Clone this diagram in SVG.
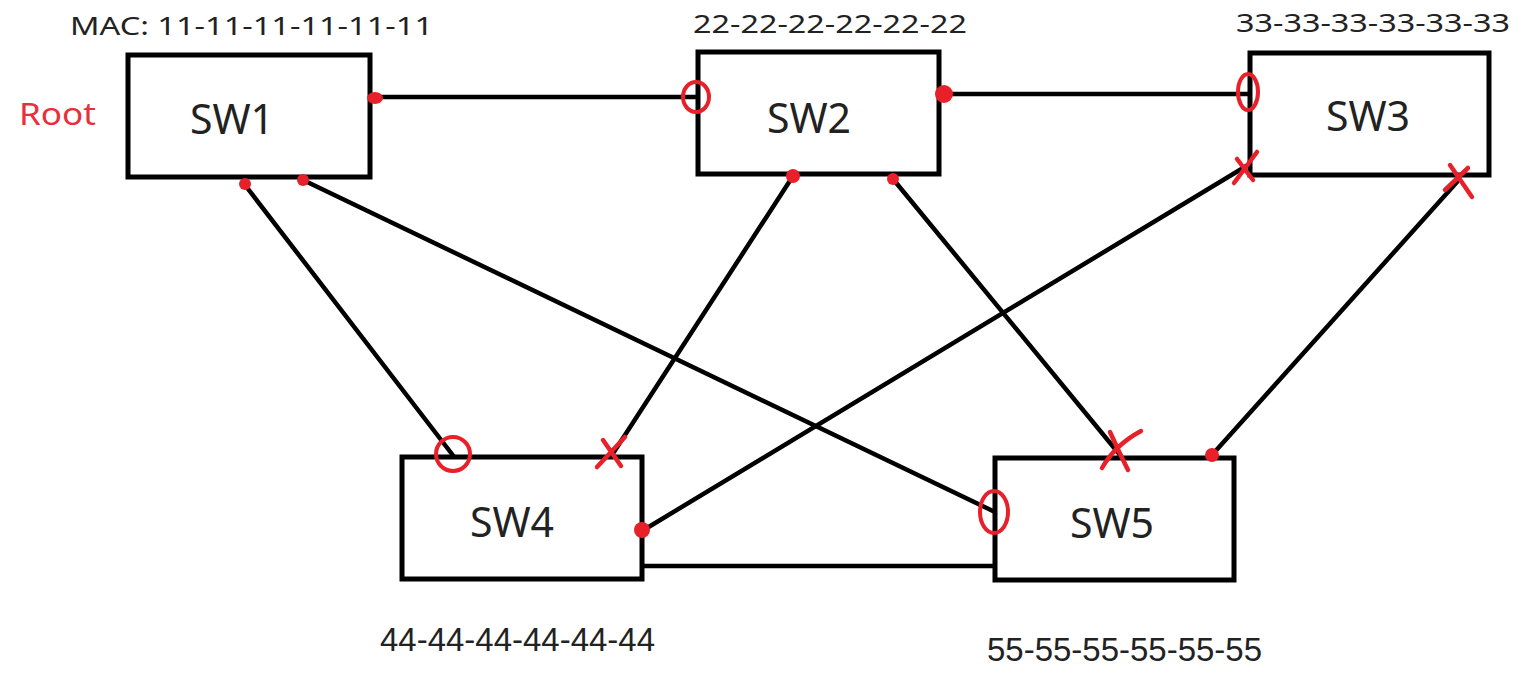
<svg xmlns="http://www.w3.org/2000/svg" width="1533" height="675" viewBox="0 0 1533 675">
<style>
.box{fill:#fff;stroke:#000;stroke-width:5}
.lbl{font-family:"Noto Sans","DejaVu Sans",sans-serif;font-size:41px;fill:#222;text-anchor:middle}
.mac{font-family:"Noto Sans","DejaVu Sans",sans-serif;font-size:26px;fill:#222}
.mac2{font-family:"Liberation Sans",Arial,sans-serif;font-size:34px;fill:#222}
.ln{stroke:#000;stroke-width:4.5;fill:none;stroke-linecap:round}
.dot{fill:#e8202a}
.ring{fill:none;stroke:#e8202a;stroke-width:4}
.x{fill:none;stroke:#e8202a;stroke-width:4.5;stroke-linecap:round}
</style>
<rect width="1533" height="675" fill="#fff"/>
<g id="connectors">
<line class="ln" x1="370" y1="97" x2="698" y2="97"/>
<line class="ln" x1="939" y1="94" x2="1250" y2="94"/>
<line class="ln" x1="245" y1="185" x2="455" y2="458"/>
<line class="ln" x1="303" y1="180" x2="995" y2="512"/>
<line class="ln" x1="793" y1="176" x2="612" y2="455"/>
<line class="ln" x1="893" y1="179" x2="1120" y2="455"/>
<line class="ln" x1="1248" y1="165" x2="642" y2="531"/>
<line class="ln" x1="1457" y1="182" x2="1212" y2="455"/>
<line class="ln" x1="642" y1="566" x2="995" y2="566"/>
</g>
<g id="sw1">
<rect class="box" x="128" y="55" width="242" height="122"/>
<text class="lbl" x="232" y="134">SW1</text>
<text class="mac" x="70" y="35" textLength="363" lengthAdjust="spacingAndGlyphs">MAC: 11-11-11-11-11-11</text>
<text x="19" y="125" font-family="'Noto Sans','DejaVu Sans',sans-serif" font-size="31" fill="#e8303a" textLength="77" lengthAdjust="spacingAndGlyphs">Root</text>
</g>
<g id="sw2">
<rect class="box" x="698" y="52" width="241" height="122"/>
<text class="lbl" x="809" y="133">SW2</text>
<text class="mac" x="693" y="33" textLength="274" lengthAdjust="spacingAndGlyphs">22-22-22-22-22-22</text>
</g>
<g id="sw3">
<rect class="box" x="1250" y="53" width="239" height="122"/>
<text class="lbl" x="1368" y="131">SW3</text>
<text class="mac" x="1236" y="32" textLength="274" lengthAdjust="spacingAndGlyphs">33-33-33-33-33-33</text>
</g>
<g id="sw4">
<rect class="box" x="402" y="457" width="240" height="122"/>
<text class="lbl" x="512" y="537">SW4</text>
<text class="mac2" x="380" y="651" textLength="275" lengthAdjust="spacingAndGlyphs">44-44-44-44-44-44</text>
</g>
<g id="sw5">
<rect class="box" x="995" y="458" width="239" height="122"/>
<text class="lbl" x="1112" y="538">SW5</text>
<text class="mac2" x="987" y="661" textLength="275" lengthAdjust="spacingAndGlyphs">55-55-55-55-55-55</text>
</g>
<g id="port-marks">
<ellipse class="dot" cx="375" cy="98" rx="8" ry="6"/>
<circle class="dot" cx="944" cy="94" r="9"/>
<ellipse class="ring" cx="696" cy="97" rx="13" ry="15"/>
<ellipse class="ring" cx="1248" cy="92" rx="10" ry="18"/>
<circle class="dot" cx="245" cy="184" r="6"/>
<circle class="dot" cx="303" cy="180" r="6"/>
<circle class="dot" cx="793" cy="176" r="7"/>
<circle class="dot" cx="893" cy="179" r="6"/>
<circle class="ring" cx="453" cy="454" r="17"/>
<ellipse class="ring" cx="994" cy="512" rx="14" ry="21"/>
<circle class="dot" cx="642" cy="530" r="8"/>
<circle class="dot" cx="1212" cy="455" r="7"/>
<path class="x" d="M603 440 L621 466 M625 437 L597 467"/>
<path class="x" d="M1237 159 L1253 180 M1257 152 L1234 183"/>
<path class="x" d="M1450 165 L1472 197 M1468 168 L1445 190"/>
<path class="x" d="M1110 432 Q1118 450 1128 470 M1141 431 Q1115 445 1102 468"/>
</g>
</svg>
